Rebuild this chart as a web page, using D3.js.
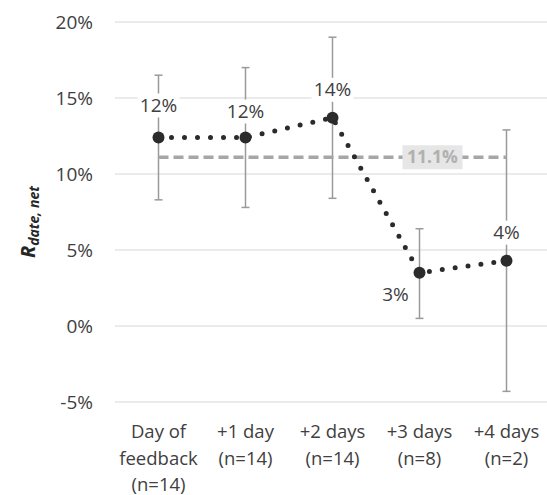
<!DOCTYPE html>
<html>
<head>
<meta charset="utf-8">
<script src="https://cdn.jsdelivr.net/npm/d3@7"></script>
<style>
  body { margin: 0; background: #fff; }
  svg { font-family: "Open Sans", "Noto Sans", sans-serif; }
</style>
</head>
<body>
<div id="chart"></div>
<script>
const categories = [["Day of", "feedback", "(n=14)"], ["+1 day", "(n=14)"], ["+2 days", "(n=14)"], ["+3 days", "(n=8)"], ["+4 days", "(n=2)"]];
const values = [12.4, 12.4, 13.7, 3.5, 4.3];
const errLow = [8.3, 7.8, 8.4, 0.5, -4.3];
const errHigh = [16.5, 17.0, 19.0, 6.4, 12.9];
const dataLabels = ["12%", "12%", "14%", "3%", "4%"];
const meanValue = 11.1;
const yTicks = [-5, 0, 5, 10, 15, 20];

const W = 547, H = 495;
const margin = { top: 22, right: -3, bottom: 93, left: 115 };

const svg = d3.select("#chart").append("svg")
  .attr("width", W).attr("height", H);

const x = d3.scaleBand()
  .domain(d3.range(categories.length))
  .range([margin.left, W - margin.right]);

const y = d3.scaleLinear()
  .domain([-5, 20])
  .range([H - margin.bottom, margin.top]);

const cx = i => x(i) + x.bandwidth() / 2;

// gridlines
svg.append("g").selectAll("line")
  .data(yTicks).join("line")
  .attr("x1", margin.left).attr("x2", W)
  .attr("y1", d => y(d)).attr("y2", d => y(d))
  .attr("stroke", "#e4e4e4").attr("stroke-width", 1.3);

// y tick labels
svg.append("g").selectAll("text")
  .data(yTicks).join("text")
  .attr("x", 93).attr("y", d => y(d))
  .attr("dy", "0.35em")
  .attr("text-anchor", "end")
  .attr("font-size", 19)
  .attr("fill", "#404040")
  .text(d => d + "%");

// y axis title
const yt = svg.append("text")
  .attr("transform", `translate(35,${222}) rotate(-90)`)
  .attr("text-anchor", "middle")
  .attr("font-weight", "bold")
  .attr("font-style", "italic")
  .attr("fill", "#262626");
yt.append("tspan").attr("font-size", 20).text("R");
yt.append("tspan").attr("font-size", 14).attr("dy", 4).text("date, net");

// x labels
const xl = svg.append("g").selectAll("text")
  .data(categories).join("text")
  .attr("x", (d, i) => cx(i))
  .attr("y", 438)
  .attr("text-anchor", "middle")
  .attr("font-size", 18.5)
  .attr("fill", "#404040");
xl.selectAll("tspan")
  .data(d => d).join("tspan")
  .attr("x", function() { return this.parentNode.getAttribute("x"); })
  .attr("dy", (d, j) => j === 0 ? 0 : 26.5)
  .text(d => d);

// error bars
const eb = svg.append("g").attr("stroke", "#9a9a9a").attr("stroke-width", 1.5);
values.forEach((v, i) => {
  eb.append("line").attr("x1", cx(i)).attr("x2", cx(i))
    .attr("y1", y(errLow[i])).attr("y2", y(errHigh[i]));
  [errLow[i], errHigh[i]].forEach(e => {
    eb.append("line").attr("x1", cx(i) - 4).attr("x2", cx(i) + 4)
      .attr("y1", y(e)).attr("y2", y(e));
  });
});

// mean line
svg.append("line")
  .attr("x1", cx(0)).attr("x2", cx(4))
  .attr("y1", y(meanValue)).attr("y2", y(meanValue))
  .attr("stroke", "#a6a6a6").attr("stroke-width", 3.5)
  .attr("stroke-dasharray", "10,5");

const mx = cx(3) + 13;
svg.append("rect")
  .attr("x", mx - 30).attr("y", y(meanValue) - 12)
  .attr("width", 60).attr("height", 24)
  .attr("fill", "#e6e6e6");
svg.append("text")
  .attr("x", mx).attr("y", y(meanValue))
  .attr("dy", "0.35em")
  .attr("text-anchor", "middle")
  .attr("font-size", 17.5).attr("font-weight", "bold")
  .attr("fill", "#b0b0b0")
  .text(meanValue.toFixed(1) + "%");

// dotted series line
svg.append("path")
  .datum(values)
  .attr("fill", "none")
  .attr("stroke", "#2b2b2b")
  .attr("stroke-width", 5)
  .attr("stroke-linecap", "round")
  .attr("stroke-dasharray", "0,13")
  .attr("d", d3.line().x((d, i) => cx(i)).y(d => y(d)));

svg.append("g").selectAll("circle")
  .data(values).join("circle")
  .attr("cx", (d, i) => cx(i)).attr("cy", d => y(d))
  .attr("r", 6).attr("fill", "#2b2b2b");

// data labels
const labelOffsets = [[0, -32], [0, -26], [0, -28], [-24, 22], [0, -28]];
const lg = svg.append("g");
values.forEach((v, i) => {
  const lx = cx(i) + labelOffsets[i][0], ly = y(v) + labelOffsets[i][1];
  lg.append("rect").attr("x", lx - 21).attr("y", ly - 12)
    .attr("width", 42).attr("height", 24).attr("fill", "#fff");
  lg.append("text").attr("x", lx).attr("y", ly).attr("dy", "0.35em")
    .attr("text-anchor", "middle").attr("font-size", 19)
    .attr("fill", "#404040").text(dataLabels[i]);
});
</script>
</body>
</html>
